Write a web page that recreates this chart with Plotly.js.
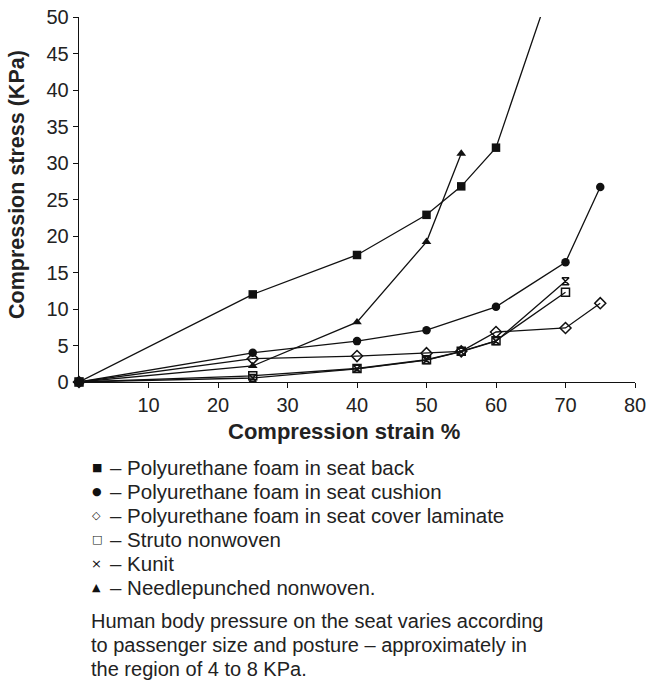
<!DOCTYPE html>
<html>
<head>
<meta charset="utf-8">
<script src="https://cdn.plot.ly/plotly-3.0.1.min.js"></script>
<style>html,body{margin:0;padding:0;background:#fff;}#chart{width:648px;height:682px;}</style>
</head>
<body>
<div id="chart"></div>
<script>
// Data
const seriesNames = [
  "Polyurethane foam in seat back",
  "Polyurethane foam in seat cushion",
  "Polyurethane foam in seat cover laminate",
  "Struto nonwoven",
  "Kunit",
  "Needlepunched nonwoven."
];
const strainBack = [0, 25, 40, 50, 55, 60, 70];
const stressBack = [0, 12.0, 17.4, 22.9, 26.8, 32.1, 60.1];
const strainCushion = [0, 25, 40, 50, 60, 70, 75];
const stressCushion = [0, 4.0, 5.6, 7.1, 10.3, 16.4, 26.7];
const strainCover = [0, 25, 40, 50, 55, 60, 70, 75];
const stressCover = [0, 3.2, 3.55, 3.95, 4.2, 6.85, 7.4, 10.8];
const strainStruto = [0, 25, 40, 50, 55, 60, 70];
const stressStruto = [0, 0.85, 1.85, 3.05, 4.2, 5.65, 12.3];
const strainKunit = [0, 25, 40, 50, 55, 60, 70];
const stressKunit = [0, 0.55, 1.8, 3.0, 4.15, 5.6, 13.8];
const strainNeedle = [0, 25, 40, 50, 55];
const stressNeedle = [0, 2.2, 8.2, 19.2, 31.3];
const xTicks = [10, 20, 30, 40, 50, 60, 70, 80];
const yTicks = [0, 5, 10, 15, 20, 25, 30, 35, 40, 45, 50];
const xTitle = "Compression strain %";
const yTitle = "Compression stress (KPa)";
const legendGlyphs = ["\u25A0", "\u25CF", "\u25C7", "\u25A1", "\u00D7", "\u25B2"];
const captionLines = [
  "Human body pressure on the seat varies according",
  "to passenger size and posture \u2013 approximately in",
  "the region of 4 to 8 KPa."
];

const FONT = "Liberation Sans, Arial, Helvetica, sans-serif";
const lineStyle = {color: "#111", width: 1.3};
function tr(x, y, name, symbol, size, mline) {
  return {
    x: x, y: y, name: name, type: "scatter", mode: "lines+markers",
    line: lineStyle, cliponaxis: false,
    marker: {symbol: symbol, size: size, color: "#111", line: mline || {color: "#111", width: 0}}
  };
}
const traces = [
  tr(strainBack, stressBack, seriesNames[0], "square", 8.5),
  tr(strainCushion, stressCushion, seriesNames[1], "circle", 8.5),
  tr(strainCover, stressCover, seriesNames[2], "diamond-open", 8.5, {color: "#111", width: 1.5}),
  tr(strainStruto, stressStruto, seriesNames[3], "square-open", 8, {color: "#111", width: 1.5}),
  tr(strainKunit, stressKunit, seriesNames[4], "hourglass-open", 7, {color: "#111", width: 1.5}),
  tr(strainNeedle, stressNeedle, seriesNames[5], "triangle-up", 8.5)
];
traces[0].cliponaxis = true;

// plot area geometry (pixels) to place the caption
const mTop = 17, mBottom = 300, mLeft = 79, mRight = 13;
const plotH = 682 - mTop - mBottom, plotW = 648 - mLeft - mRight;
function py(p) { return (682 - mBottom - p) / plotH; }
function px(p) { return (p - mLeft) / plotW; }

const annotations = [];
annotations.push({xref: "paper", yref: "paper", x: px(344), y: py(431), xanchor: "center", yanchor: "middle",
  text: "<b>" + xTitle + "</b>", showarrow: false, font: {family: FONT, size: 22, color: "#222"}});
annotations.push({xref: "paper", yref: "paper", x: px(17), y: py(185), xanchor: "center", yanchor: "middle",
  textangle: -90, text: "<b>" + yTitle + "</b>", showarrow: false, font: {family: FONT, size: 21.5, color: "#222"}});
const legendY0 = 468, legendStep = 23.8;
seriesNames.forEach((n, i) => {
  const yy = py(legendY0 + i * legendStep);
  annotations.push({xref: "paper", yref: "paper", x: px(96.5), y: yy, xanchor: "center", yanchor: "middle",
    text: legendGlyphs[i], showarrow: false, font: {family: "DejaVu Sans", size: i === 4 ? 13 : 11, color: "#111"}});
  annotations.push({xref: "paper", yref: "paper", x: px(108), y: yy, xanchor: "left", yanchor: "middle",
    text: "\u2013 " + n, showarrow: false, font: {family: FONT, size: 20.5, color: "#222"}});
});
captionLines.forEach((t, i) => {
  annotations.push({xref: "paper", yref: "paper", x: px(89), y: py(621 + i * 24), xanchor: "left", yanchor: "middle",
    text: t, showarrow: false, font: {family: FONT, size: 20, color: "#222"}});
});

const layout = {
  width: 648, height: 682,
  margin: {l: mLeft, r: mRight, t: mTop, b: mBottom},
  paper_bgcolor: "#fff", plot_bgcolor: "#fff",
  showlegend: false,
  font: {family: FONT, size: 20, color: "#222"},
  xaxis: {
    range: [0, 80], tickvals: xTicks, ticks: "outside", ticklen: 5, tickcolor: "#111",
    showline: true, linecolor: "#111", linewidth: 1.3, showgrid: false, zeroline: false,
    tickfont: {family: FONT, size: 20, color: "#222"}
  },
  yaxis: {
    range: [0, 50], tickvals: yTicks, ticks: "outside", ticklen: 5, tickcolor: "#111",
    showline: true, linecolor: "#111", linewidth: 1.3, showgrid: false, zeroline: false,
    tickfont: {family: FONT, size: 20, color: "#222"}
  },
  annotations: annotations
};
Plotly.newPlot("chart", traces, layout, {displayModeBar: false, staticPlot: true});
</script>
</body>
</html>
